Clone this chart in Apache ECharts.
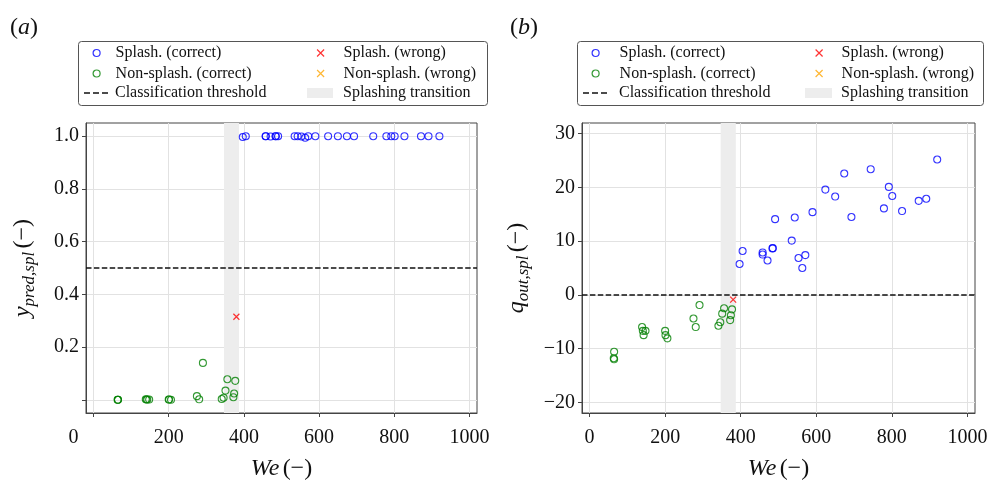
<!DOCTYPE html>
<html>
<head>
<meta charset="utf-8">
<script src="https://cdn.jsdelivr.net/npm/echarts@6/dist/echarts.min.js"></script>
<style>
  html, body { margin: 0; padding: 0; background: #fff; }
  #chart { width: 991px; height: 480px; }
</style>
</head>
<body>
<div id="chart"></div>
<script>
// Weber number, classifier output q_out and predicted probability y_pred for each drop impact
const weSplashCorrect = [397, 405, 458, 458, 471, 484, 485, 491, 535, 543, 553, 563, 571, 590, 624, 650, 674, 693, 744, 779, 792, 801, 827, 871, 891, 920];
const qSplashCorrect  = [5.75, 8.16, 7.9, 7.5, 6.4, 8.65, 8.7, 14.1, 10.1, 14.4, 6.86, 5.0, 7.4, 15.4, 19.6, 18.3, 22.6, 14.5, 23.4, 16.1, 20.1, 18.4, 15.6, 17.5, 17.9, 25.2];
const ySplashCorrect  = [0.997, 1.0, 1.0, 1.0, 0.999, 1.0, 1.0, 1.0, 1.0, 1.0, 0.999, 0.994, 1.0, 1.0, 1.0, 1.0, 1.0, 1.0, 1.0, 1.0, 1.0, 1.0, 1.0, 1.0, 1.0, 1.0];

const weNonCorrect = [65, 64, 65, 139, 141, 148, 143, 200, 201, 206, 275, 281, 291, 341, 346, 351, 356, 372, 374, 377];
const qNonCorrect  = [-10.6, -11.8, -12.0, -6.0, -6.7, -6.7, -7.5, -6.7, -7.5, -8.1, -4.4, -6.0, -1.9, -5.75, -5.1, -3.5, -2.5, -4.7, -3.8, -2.7];
const yNonCorrect  = [0.0, 0.0, 0.0, 0.002, 0.001, 0.001, 0.001, 0.001, 0.001, 0.0, 0.014, 0.002, 0.14, 0.003, 0.008, 0.035, 0.078, 0.01, 0.024, 0.072];

const weSplashWrong = [380];
const qSplashWrong  = [-0.9];
const ySplashWrong  = [0.315];

const weNonWrong = [];
const qNonWrong  = [];
const yNonWrong  = [];

// Splashing transition band (We range) and decision thresholds
const transitionWe = [347, 387];
const thresholdPred = 0.5;
const thresholdQ = 0;

// Tick values
const xTicks = [0, 200, 400, 600, 800, 1000];
const predTicks = [0, 0.2, 0.4, 0.6, 0.8, 1.0];
const predLabels = [0.2, 0.4, 0.6, 0.8, 1.0];
const qTicks = [-20, -10, 0, 10, 20, 30];

const FONT = 'Liberation Serif';
const AXIS_COLOR = '#444';
const GRID_COLOR = '#e2e2e2';

const pairs = (xs, ys) => xs.map((x, i) => [x, ys[i]]);
const CROSS = 'path://M0,0L10,10M10,0L0,10';

const names = {
  sc: 'Splash. (correct)',
  sw: 'Splash. (wrong)',
  nc: 'Non-splash. (correct)',
  nw: 'Non-splash. (wrong)',
  th: 'Classification threshold',
  tr: 'Splashing transition'
};

function panelSeries(idx, ySc, yNc, ySw, yNw, thr) {
  return [
    {
      name: names.tr, type: 'line', xAxisIndex: idx, yAxisIndex: idx, data: [], z: 1,
      markArea: { silent: true, itemStyle: { color: '#ededed' },
        data: [[{ xAxis: transitionWe[0] }, { xAxis: transitionWe[1] }]] }
    },
    {
      name: names.th, type: 'line', xAxisIndex: idx, yAxisIndex: idx, data: [], z: 2,
      markLine: { silent: true, symbol: 'none', label: { show: false },
        lineStyle: { color: '#111', width: 1.5, type: [5.5, 2.4] },
        data: [{ yAxis: thr }] }
    },
    {
      name: names.sc, type: 'scatter', xAxisIndex: idx, yAxisIndex: idx, z: 3,
      symbol: 'circle', symbolSize: 7,
      itemStyle: { color: 'rgba(0,0,0,0)', borderColor: '#0000ff', borderWidth: 1.1 },
      data: pairs(weSplashCorrect, ySc)
    },
    {
      name: names.nc, type: 'scatter', xAxisIndex: idx, yAxisIndex: idx, z: 3,
      symbol: 'circle', symbolSize: 7,
      itemStyle: { color: 'rgba(0,0,0,0)', borderColor: '#008000', borderWidth: 1.1 },
      data: pairs(weNonCorrect, yNc)
    },
    {
      name: names.sw, type: 'scatter', xAxisIndex: idx, yAxisIndex: idx, z: 4,
      symbol: CROSS, symbolSize: 6,
      itemStyle: { color: 'rgba(0,0,0,0)', borderColor: '#ff0000', borderWidth: 1.2 },
      data: pairs(weSplashWrong, ySw)
    },
    {
      name: names.nw, type: 'scatter', xAxisIndex: idx, yAxisIndex: idx, z: 4,
      symbol: CROSS, symbolSize: 6,
      itemStyle: { color: 'rgba(0,0,0,0)', borderColor: '#ffa500', borderWidth: 1.2 },
      data: pairs(weNonWrong, yNw)
    }
  ];
}

const tickLabelStyle = { fontFamily: FONT, fontSize: 20, color: '#111' };
const nameRich = {
  i: { fontFamily: FONT, fontSize: 24, fontStyle: 'italic', fontWeight: 'normal', color: '#111' },
  s: { fontFamily: FONT, fontSize: 17, fontStyle: 'italic', fontWeight: 'normal', color: '#111', padding: [14, 0, 0, 0] },
  n: { fontFamily: FONT, fontSize: 24, fontWeight: 'normal', color: '#111' }
};

function xAxis(idx, shiftZero) {
  return {
    type: 'value', gridIndex: idx, min: -20, max: 1020,
    axisLine: { show: true, onZero: false, lineStyle: { color: AXIS_COLOR } },
    axisTick: { show: true, inside: false, length: 4, customValues: xTicks, lineStyle: { color: AXIS_COLOR } },
    axisLabel: Object.assign({}, tickLabelStyle, {
      customValues: xTicks, margin: 15,
      formatter: v => (shiftZero && v === 0) ? '{z|0}' : String(v),
      rich: { z: Object.assign({}, tickLabelStyle, { padding: [0, 40, 0, 0] }) }
    }),
    splitLine: { show: true, lineStyle: { color: GRID_COLOR, width: 1 } },
    name: '{i|We} {n|(\u2212)}', nameLocation: 'middle', nameGap: 44,
    nameTextStyle: { rich: nameRich }
  };
}

function yAxis(idx, min, max, ticks, labels, fmt, name, gap) {
  return {
    type: 'value', gridIndex: idx, min: min, max: max,
    axisLine: { show: true, onZero: false, lineStyle: { color: AXIS_COLOR } },
    axisTick: { show: true, inside: false, length: 4, customValues: ticks, lineStyle: { color: AXIS_COLOR } },
    axisLabel: Object.assign({}, tickLabelStyle, { customValues: labels, margin: 7, formatter: fmt }),
    splitLine: { show: true, lineStyle: { color: GRID_COLOR, width: 1 } },
    name: name, nameLocation: 'middle', nameGap: gap,
    nameTextStyle: { rich: nameRich }
  };
}

// One legend component per entry so each sits at its own row/column
function legendEntry(name, left, top, w, h, icon, itemStyle, padLeft) {
  const item = { name: name, icon: icon };
  if (itemStyle) item.itemStyle = itemStyle;
  return {
    data: [item], left: left, top: top, padding: 0,
    itemWidth: w, itemHeight: h, selectedMode: false,
    textStyle: { fontFamily: FONT, fontSize: 16, color: '#111', lineHeight: 18, padding: [0, 0, 0, padLeft] }
  };
}

const DASHES = 'path://M0,0h6v1.5h-6zM9,0h6v1.5h-6zM18,0h6v1.5h-6z';
const hollow = c => ({ color: 'rgba(0,0,0,0)', borderColor: c, borderWidth: 1.2 });
const crossStyle = c => ({ color: 'rgba(0,0,0,0)', borderColor: c, borderWidth: 1.2 });

function panelLegends(c1Center, c1Text, c2Left, c2Width, c2Text) {
  const rows = [53, 73.5, 93].map(r => r - 9);
  const c2XLeft = c2Left + c2Width / 2 - 3.5;
  return [
    legendEntry(names.sc, c1Center - 3.5, rows[0], 7, 7, 'circle', hollow('#0000ff'), c1Text - (c1Center + 3.5 + 5)),
    legendEntry(names.nc, c1Center - 3.5, rows[1], 7, 7, 'circle', hollow('#008000'), c1Text - (c1Center + 3.5 + 5)),
    legendEntry(names.th, c1Center - 12, rows[2], 24, 1.5, DASHES, { color: '#111', borderWidth: 0 }, c1Text - (c1Center + 12 + 5)),
    legendEntry(names.sw, c2XLeft, rows[0], 7, 7, CROSS, crossStyle('#ff0000'), c2Text - (c2XLeft + 7 + 5)),
    legendEntry(names.nw, c2XLeft, rows[1], 7, 7, CROSS, crossStyle('#ffa500'), c2Text - (c2XLeft + 7 + 5)),
    legendEntry(names.tr, c2Left, rows[2], c2Width, 10, 'rect', { color: '#ededed', borderWidth: 0 }, c2Text - (c2Left + c2Width + 5))
  ];
}

const panelRich = {
  p: { fontFamily: FONT, fontSize: 24, fontWeight: 'normal', color: '#111' },
  i: { fontFamily: FONT, fontSize: 24, fontStyle: 'italic', fontWeight: 'normal', color: '#111' }
};

const gridBase = { show: true, borderColor: AXIS_COLOR, borderWidth: 1, backgroundColor: 'rgba(0,0,0,0)', containLabel: false, outerBoundsMode: 'none' };

const option = {
  animation: false,
  backgroundColor: '#fff',
  title: [
    { text: '{p|(}{i|a}{p|)}', left: 5, top: 11, textStyle: { fontWeight: 'normal', rich: panelRich } },
    { text: '{p|(}{i|b}{p|)}', left: 505, top: 11, textStyle: { fontWeight: 'normal', rich: panelRich } }
  ],
  grid: [
    Object.assign({ left: 86, top: 123, width: 391, height: 290 }, gridBase),
    Object.assign({ left: 582, top: 123, width: 393, height: 290 }, gridBase)
  ],
  xAxis: [xAxis(0, true), xAxis(1, false)],
  yAxis: [
    yAxis(0, -0.05, 1.05, predTicks, predLabels, v => v.toFixed(1), '{i|y}{s|pred,spl} {n|(\u2212)}', 48),
    yAxis(1, -22, 32, qTicks, qTicks, v => String(v).replace('-', '\u2212'), '{i|q}{s|out,spl} {n|(\u2212)}', 50)
  ],
  legend: panelLegends(96, 115, 307, 26, 343).concat(panelLegends(595, 619, 805, 27, 841)),
  graphic: [
    { type: 'rect', shape: { x: 78.5, y: 41.5, width: 409, height: 64, r: 3 }, style: { fill: 'none', stroke: '#555', lineWidth: 1 }, z: 0 },
    { type: 'rect', shape: { x: 577.5, y: 41.5, width: 406, height: 64, r: 3 }, style: { fill: 'none', stroke: '#555', lineWidth: 1 }, z: 0 }
  ],
  series: panelSeries(0, ySplashCorrect, yNonCorrect, ySplashWrong, yNonWrong, thresholdPred)
    .concat(panelSeries(1, qSplashCorrect, qNonCorrect, qSplashWrong, qNonWrong, thresholdQ))
};

const chart = echarts.init(document.getElementById('chart'), null, { renderer: 'canvas' });
chart.setOption(option);
</script>
</body>
</html>
